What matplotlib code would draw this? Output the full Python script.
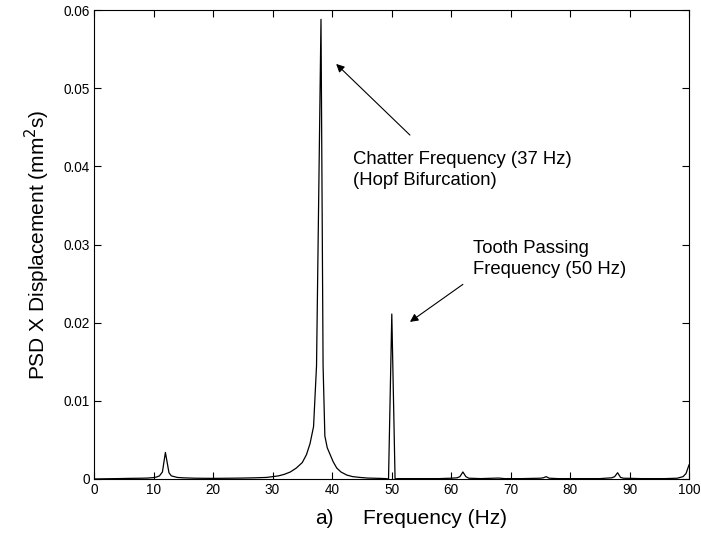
import matplotlib
matplotlib.use("Agg")
import matplotlib.pyplot as plt

plt.rcParams["font.family"] = ["Liberation Sans", "DejaVu Sans"]

# PSD
freq = [0, 2, 4, 6, 8, 9, 10, 10.5, 11, 11.5, 12, 12.6, 13, 13.5, 14, 15, 17,
        20, 23, 25, 27, 29, 30, 31, 32, 33, 34, 35, 35.7, 36.3, 36.9, 37.4,
        38.15, 38.5, 38.8, 39.2, 39.7, 40.2, 40.8, 41.5, 42.5, 43.5, 44.7, 46,
        47, 48, 49, 49.5, 50.05, 50.6, 51, 52, 55, 58, 60, 61, 61.5, 62, 62.5,
        63, 65, 68, 69, 72, 75, 75.5, 76, 76.5, 78, 85, 87, 87.5, 88, 88.5, 89,
        92, 96, 98, 99, 99.5, 100]
psd = [0.0, 0.00003, 0.00005, 0.00008, 0.0001, 0.00012, 0.00018, 0.00025,
       0.0004, 0.0009, 0.0034, 0.0008, 0.0004, 0.0003, 0.0002, 0.00015, 0.0001,
       0.00008, 0.0001, 0.00012, 0.00015, 0.0002, 0.0003, 0.0004, 0.0006,
       0.0009, 0.0014, 0.0021, 0.0031, 0.0045, 0.0067, 0.0145,
       0.0588, 0.0145, 0.0055, 0.0040, 0.0031, 0.0022, 0.0014, 0.0009, 0.0005,
       0.0003, 0.0002, 0.00012,
       0.0001, 0.00008, 0.00005, 0.0, 0.0211, 0.0, 0.00005, 0.00005, 0.00005,
       0.00005, 0.0001, 0.00015, 0.0003, 0.0009, 0.0003,
       0.0001, 0.00005, 0.00012, 0.00005, 0.00005, 0.0001, 0.00015, 0.0003,
       0.0001, 0.00005, 0.00005, 0.00015, 0.0003, 0.0008, 0.0002, 0.0001,
       0.00005, 0.00005, 0.0001, 0.0003, 0.0007, 0.0018]

xticks = [0, 10, 20, 30, 40, 50, 60, 70, 80, 90, 100]
yticks = [0, 0.01, 0.02, 0.03, 0.04, 0.05, 0.06]
ytick_labels = ["0", "0.01", "0.02", "0.03", "0.04", "0.05", "0.06"]

W, H = 701, 536
fig = plt.figure(figsize=(W / 100, H / 100), dpi=100)
ax = fig.add_axes([94 / W, 1 - 479 / H, 595 / W, 469 / H])
ax.plot(freq, psd, color="black", lw=0.9)

ax.set_xlim(0, 100)
ax.set_ylim(0, 0.06)
ax.set_xticks(xticks)
ax.set_yticks(yticks)
ax.set_yticklabels(ytick_labels)
ax.tick_params(direction="in", length=5, top=True, right=True, labelsize=9.8,
               width=0.8, pad=3)
for s in ax.spines.values():
    s.set_linewidth(0.8)

# axis titles placed in figure pixels, like the reference
fig.text(315 / W, 1 - 518 / H, "a)", fontsize=15, ha="left", va="center")
fig.text(363 / W, 1 - 518 / H, "Frequency (Hz)", fontsize=15, ha="left",
         va="center")
fig.text(37 / W, 1 - 245 / H, "PSD X Displacement (mm$^2$s)", fontsize=15,
         rotation=90, ha="center", va="center")

ax.annotate("", xy=(40.7, 0.0531), xytext=(53.1, 0.0440),
            arrowprops=dict(arrowstyle="-|>", color="black", lw=0.8,
                            mutation_scale=12, shrinkA=0, shrinkB=0))
ax.text(43.5, 0.0395, "Chatter Frequency (37 Hz)\n(Hopf Bifurcation)",
        fontsize=13.3, va="center", ha="left", linespacing=1.32)

ax.annotate("", xy=(53.1, 0.0201), xytext=(62.0, 0.0249),
            arrowprops=dict(arrowstyle="-|>", color="black", lw=0.8,
                            mutation_scale=12, shrinkA=0, shrinkB=0))
ax.text(63.7, 0.0281, "Tooth Passing\nFrequency (50 Hz)",
        fontsize=13.3, va="center", ha="left", linespacing=1.32)

fig.savefig("out.png", dpi=100)
